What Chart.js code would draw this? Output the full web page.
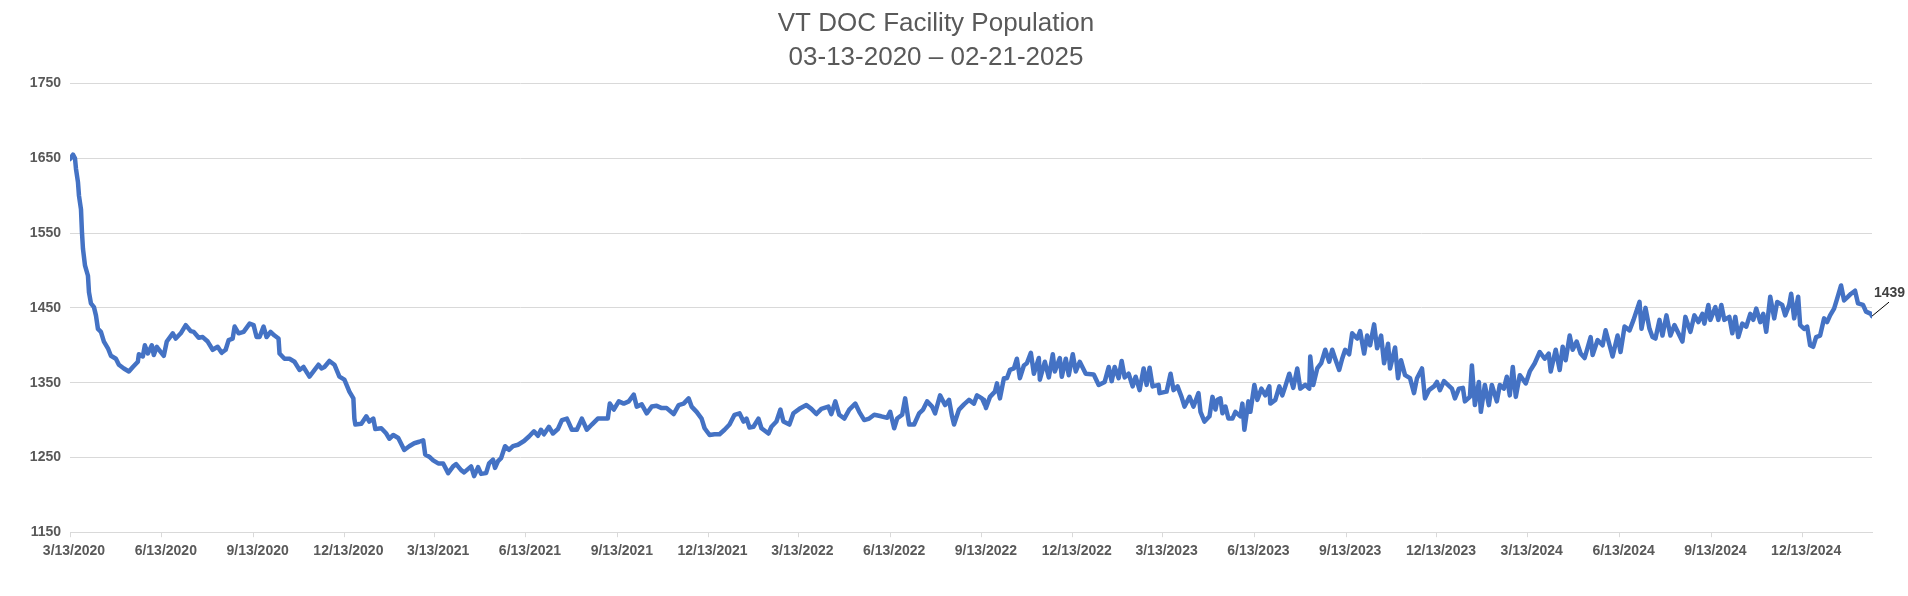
<!DOCTYPE html>
<html>
<head>
<meta charset="utf-8">
<script src="https://cdn.jsdelivr.net/npm/chart.js@4/dist/chart.umd.min.js"></script>
<style>
html,body{margin:0;padding:0;background:#ffffff;}
#wrap{width:1908px;height:596px;position:relative;}
</style>
</head>
<body>
<div id="wrap"><canvas id="c"></canvas></div>
<script>
// ---------- data ----------
const titleLines = ["VT DOC Facility Population", "03-13-2020 \u2013 02-21-2025"];
const startDate = "3/13/2020";
const endDate = "2/21/2025";
const tickLabels = ["3/13/2020","6/13/2020","9/13/2020","12/13/2020","3/13/2021","6/13/2021","9/13/2021","12/13/2021",
  "3/13/2022","6/13/2022","9/13/2022","12/13/2022","3/13/2023","6/13/2023","9/13/2023","12/13/2023",
  "3/13/2024","6/13/2024","9/13/2024","12/13/2024"];
const yTicks = [1150,1250,1350,1450,1550,1650,1750];

// day offsets since 3/13/2020 and facility population, one pair of arrays per stretch
const daysA = [0,3,5,6,8,9,11,12,13,15, 18,19,21,24,26,28,31,34,38,41, 46,49,54,59,63,68,69,73,75,78,
  82,84,87,91,94,97,103,106,111,116, 121,124,129,133,138,143,148,152,156,159, 163,165,169,174,180,184,187,190,194,197,
  201,205,209,210,215,220];
const popA  = [1649,1655,1650,1636,1618,1600,1582,1551,1529,1507, 1493,1471,1456,1451,1440,1422,1418,1405,1396,1386, 1382,1374,1369,1365,1371,1378,1388,1385,1400,1389,
  1400,1387,1398,1391,1386,1405,1416,1409,1416,1427, 1419,1418,1410,1411,1405,1394,1398,1390,1394,1407, 1409,1425,1416,1418,1429,1427,1411,1411,1425,1411,
  1418,1413,1409,1389,1382,1382];

const daysB = [225,230,234,240,244,249,252,255,260,265, 270,275,280,284,285,286,292,297,300,304, 306,312,317,320,324,329,335,340,345,350,
  354,356,360,364,369,374,379,384,387,392, 395,402,405,409,412,417,420,424,426,429, 432,436,440,444,449];
const popB  = [1378,1367,1371,1358,1365,1374,1369,1371,1379,1374, 1358,1354,1338,1329,1302,1294,1295,1305,1298,1302, 1288,1289,1282,1275,1280,1276,1260,1265,1269,1271,
  1273,1254,1251,1246,1242,1242,1229,1238,1241,1233, 1230,1238,1225,1237,1228,1229,1242,1247,1236,1245, 1249,1265,1260,1265,1267];

const daysC = [455,460,465,469,472,475,480,484,489,493, 498,503,508,513,518,523,529,535,539,541, 545,550,555,560,565,568,573,578,583,588,
  593,598,605,610,615,620,623,628,633,636, 641,646,651,656,661,666,671,675,678,681];
const popC  = [1272,1278,1285,1279,1287,1281,1291,1282,1288,1300, 1302,1287,1287,1302,1287,1294,1302,1302,1302,1322, 1314,1325,1322,1325,1334,1318,1321,1309,1318,1319,
  1316,1316,1308,1320,1322,1329,1318,1311,1302,1289, 1280,1281,1281,1287,1294,1307,1309,1298,1302,1290];

const daysD = [685,690,693,700,703,708,712,715,721,725, 731,738,743,748,753,760,763,767,771,776, 781,787,791,796,801,806,813,819,822,826,
  829,834,837,841,846,851,855,859,864,867, 872,877,881,884,886,891,896,901,906,909, 914,917];
const popD  = [1291,1302,1289,1282,1291,1298,1314,1298,1294,1309, 1315,1320,1315,1308,1315,1318,1308,1325,1307,1302, 1314,1322,1311,1300,1302,1307,1305,1303,1311,1289,
  1302,1307,1329,1294,1294,1309,1314,1325,1318,1309, 1333,1320,1327,1305,1294,1314,1321,1327,1322,1333, 1329,1320];

const daysE = [916,918,922,927,929,932,936,939,942,946, 949,952,956,959,963,966,971,972,977,981, 985,987,992,994,998,1001,1005,1008,1012,1018,
  1026,1031,1037,1041,1044,1047,1051,1054,1057,1061, 1065,1068,1072,1076,1079,1082,1085,1091,1092,1099, 1103,1106,1110,1114,1117,1122,1126,1131,1133,1137,
  1142,1145,1148];
const popE  = [1327,1316,1331,1338,1349,1329,1356,1356,1367,1369, 1382,1356,1373,1376,1390,1362,1383,1354,1378,1357, 1388,1365,1383,1358,1382,1360,1388,1365,1378,1362,
  1361,1347,1351,1371,1352,1371,1356,1379,1357,1362, 1345,1358,1340,1369,1347,1370,1345,1347,1336,1338, 1362,1340,1345,1331,1318,1331,1318,1336,1311,1298,
  1305,1331,1314];

const daysF = [1150,1153,1155,1158,1161,1165,1168,1173,1175,1177, 1181,1183,1187,1190,1194,1198,1202,1203,1208,1212, 1215,1218,1222,1226,1230,1233,1238,1242,1243,1246,
  1250,1254,1258,1262,1265,1268,1272,1275,1278,1282, 1285,1290,1293,1297,1300,1303,1307,1310,1314,1317, 1321,1323,1328,1331,1334,1338,1343,1347,1350,1355,
  1358,1362,1367,1370,1373,1377];
const popF  = [1327,1329,1309,1318,1302,1302,1311,1305,1322,1287, 1325,1311,1347,1327,1342,1333,1345,1322,1327,1345, 1333,1345,1362,1343,1369,1342,1347,1342,1385,1347,
  1369,1376,1394,1378,1394,1382,1367,1382,1394,1388, 1416,1409,1419,1389,1413,1400,1428,1396,1413,1376, 1402,1369,1397,1356,1380,1360,1356,1336,1356,1369,
  1329,1340,1345,1351,1340,1352];

const daysG = [1385,1388,1392,1396,1398,1403,1405,1408,1412,1414, 1418,1422,1425,1430,1433,1437,1440,1443,1446,1449, 1453,1459,1463,1468,1473,1478,1482,1484,1489,1493,
  1496,1499,1503,1506,1510,1514,1518,1524,1526,1531, 1536,1539,1543,1546,1551,1554,1558,1563,1567,1573, 1575,1579,1583,1586,1589,1593,1596,1600,1604,1608];
const popG  = [1342,1329,1342,1343,1325,1331,1373,1320,1351,1311, 1347,1320,1347,1325,1347,1342,1358,1333,1371,1331, 1360,1349,1365,1376,1391,1382,1389,1365,1394,1367,
  1398,1380,1413,1394,1405,1389,1383,1411,1387,1407, 1400,1420,1400,1385,1413,1391,1425,1420,1434,1458, 1422,1450,1422,1411,1409,1434,1413,1440,1413,1427];

const daysH = [1616,1619,1624,1628,1632,1636,1638,1642,1644,1649, 1652,1655,1658,1663,1666,1669,1672,1676,1680,1684, 1687,1690,1694,1697,1700,1704,1708,1711,1716,1719,
  1723,1725,1728,1732,1734,1738,1741,1744,1747,1750, 1754,1758,1761,1764,1768,1771,1775,1778,1782,1785, 1789,1792,1797,1800,1805,1806];
const popH  = [1405,1438,1418,1440,1431,1442,1429,1454,1434,1451, 1434,1454,1434,1438,1416,1438,1411,1429,1425,1442, 1434,1449,1431,1442,1418,1465,1436,1458,1454,1440,
  1454,1469,1436,1465,1427,1422,1425,1400,1398,1411, 1413,1436,1431,1440,1449,1462,1480,1460,1465,1469, 1473,1456,1454,1445,1442,1439];

// ---------- build ----------
const allDays = [].concat(daysA, daysB, daysC, daysD, daysE, daysF, daysG, daysH);
const allPop  = [].concat(popA, popB, popC, popD, popE, popF, popG, popH);
const points = allDays.map((d, i) => ({ x: d, y: allPop[i] }));

function dayIndex(label) {
  const [m, d, y] = label.split('/').map(Number);
  const [m0, d0, y0] = startDate.split('/').map(Number);
  return Math.round((Date.UTC(y, m - 1, d) - Date.UTC(y0, m0 - 1, d0)) / 86400000);
}
const tickDays = tickLabels.map(dayIndex);
const lastDay = dayIndex(endDate);

const FONT = "'Liberation Sans', Arial, sans-serif";
const GRID = '#D9D9D9';
const TXT = '#595959';

const lastLabelPlugin = {
  id: 'lastLabel',
  afterDatasetsDraw(chart) {
    const meta = chart.getDatasetMeta(0);
    const pt = meta.data[meta.data.length - 1];
    if (!pt) return;
    const ctx = chart.ctx;
    const val = allPop[allPop.length - 1];
    ctx.save();
    ctx.strokeStyle = '#000000';
    ctx.lineWidth = 1;
    ctx.beginPath();
    ctx.moveTo(pt.x, pt.y);
    ctx.lineTo(pt.x + 17, pt.y - 14);
    ctx.stroke();
    ctx.fillStyle = '#404040';
    ctx.font = 'bold 14px ' + FONT;
    ctx.textAlign = 'left';
    ctx.textBaseline = 'middle';
    ctx.fillText(String(val), pt.x + 2, pt.y - 23);
    ctx.restore();
  }
};

new Chart(document.getElementById('c'), {
  type: 'line',
  data: {
    datasets: [{
      data: points,
      borderColor: '#4472C4',
      borderWidth: 4.5,
      pointRadius: 0,
      tension: 0,
      fill: false,
      borderJoinStyle: 'round',
      borderCapStyle: 'round'
    }]
  },
  options: {
    responsive: true,
    maintainAspectRatio: false,
    animation: false,
    layout: { padding: { left: 0, right: 36, top: 0, bottom: 30 } },
    plugins: {
      legend: { display: false },
      tooltip: { enabled: false },
      title: {
        display: true,
        text: titleLines,
        color: TXT,
        font: { family: FONT, size: 26, weight: 'normal', lineHeight: 1.3 },
        padding: { top: 7, bottom: 9 }
      }
    },
    scales: {
      x: {
        type: 'linear',
        min: 0,
        max: lastDay,
        afterBuildTicks(scale) { scale.ticks = tickDays.map(v => ({ value: v })); },
        ticks: {
          autoSkip: false,
          maxRotation: 0,
          minRotation: 0,
          color: TXT,
          font: { family: FONT, size: 14, weight: 'bold' },
          labelOffset: 4,
          padding: 6,
          callback(value) {
            const i = tickDays.indexOf(value);
            return i >= 0 ? tickLabels[i] : '';
          }
        },
        grid: { display: true, drawOnChartArea: false, color: GRID, tickLength: 5 },
        border: { display: true, color: GRID }
      },
      y: {
        type: 'linear',
        min: yTicks[0],
        max: yTicks[yTicks.length - 1],
        afterBuildTicks(scale) { scale.ticks = yTicks.map(v => ({ value: v })); },
        afterFit(scale) { scale.width = 70; },
        ticks: {
          color: TXT,
          font: { family: FONT, size: 14, weight: 'bold' },
          padding: 9,
          callback(value) { return String(value); }
        },
        grid: { color: GRID, drawTicks: false, lineWidth: 1 },
        border: { display: false }
      }
    }
  },
  plugins: [lastLabelPlugin]
});
</script>
</body>
</html>
